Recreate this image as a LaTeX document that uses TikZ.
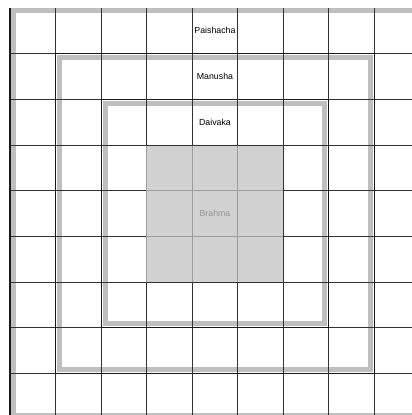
\documentclass[tikz,border=0pt]{standalone}
\usepackage{fontspec}
\setmainfont{Liberation Sans}
\begin{document}
\begin{tikzpicture}[x=1pt,y=-1pt,
  band/.style={line width=5pt, draw=black!25},
  gridline/.style={line width=0.8pt, draw=black!80},
  ringline/.style={line width=1.1pt, draw=black!90},
  innerline/.style={line width=0.9pt, draw=black!38},
  lbl/.style={font=\fontsize{8.8}{10}\selectfont, text=black, inner sep=0pt},
  lblb/.style={font=\fontsize{8.8}{10}\selectfont, text=black!42, inner sep=0pt}]
\useasboundingbox (0,0) rectangle (412,415);
\pgfmathsetmacro{\dx}{45.55}
\pgfmathsetmacro{\dy}{45.65}
\pgfmathsetmacro{\xo}{10}
\pgfmathsetmacro{\yo}{8}
\begin{scope}
\clip (0,0) rectangle (412,415);
% ring bands
\draw[band] ({\xo+3.5},{\yo+2.5}) rectangle ({\xo+9*\dx-3.5},{\yo+9*\dy-3.5});
\draw[band] ({\xo+\dx+3.5},{\yo+\dy+3.5}) rectangle ({\xo+8*\dx-3.5},{\yo+8*\dy-3.5});
\draw[band] ({\xo+2*\dx+4.5},{\yo+2*\dy+4}) rectangle ({\xo+7*\dx-4},{\yo+7*\dy-4});
% grid
\foreach \i in {0,...,9}{
  \draw[gridline] ({\xo+\i*\dx},{\yo}) -- ({\xo+\i*\dx},{\yo+9*\dy});
}
\foreach \j in {1,...,9}{
  \draw[gridline] ({\xo},{\yo+\j*\dy}) -- ({\xo+9*\dx},{\yo+\j*\dy});
}
% ring outlines
\draw[ringline] ({\xo},{\yo}) -- ({\xo},{\yo+9*\dy});
\draw[ringline] ({\xo+\dx},{\yo+\dy}) rectangle ({\xo+8*\dx},{\yo+8*\dy});
\draw[ringline] ({\xo+2*\dx},{\yo+2*\dy}) rectangle ({\xo+7*\dx},{\yo+7*\dy});
% Brahma
\fill[black!18] ({\xo+3*\dx},{\yo+3*\dy}) rectangle ({\xo+6*\dx},{\yo+6*\dy});
\foreach \i in {3,4,5}{
  \draw[innerline] ({\xo+\i*\dx},{\yo+3*\dy}) -- ({\xo+\i*\dx},{\yo+6*\dy});
}
\foreach \j in {4,5}{
  \draw[innerline] ({\xo+3*\dx},{\yo+\j*\dy}) -- ({\xo+6*\dx},{\yo+\j*\dy});
}
\draw[gridline] ({\xo+3*\dx-0.4},{\yo+3*\dy}) -- ({\xo+6*\dx},{\yo+3*\dy}) -- ({\xo+6*\dx},{\yo+6*\dy}) -- ({\xo+3*\dx-0.4},{\yo+6*\dy});
\end{scope}
% labels
\node[lbl] (paishacha) at ({\xo+4.5*\dx},{\yo+0.5*\dy}) {Paishacha};
\node[lbl] (manusha) at ({\xo+4.5*\dx},{\yo+1.5*\dy}) {Manusha};
\node[lbl] (daivaka) at ({\xo+4.5*\dx},{\yo+2.5*\dy}) {Daivaka};
\node[lblb] (brahma) at ({\xo+4.5*\dx},{\yo+4.5*\dy}) {Brahma};
\end{tikzpicture}
\end{document}
